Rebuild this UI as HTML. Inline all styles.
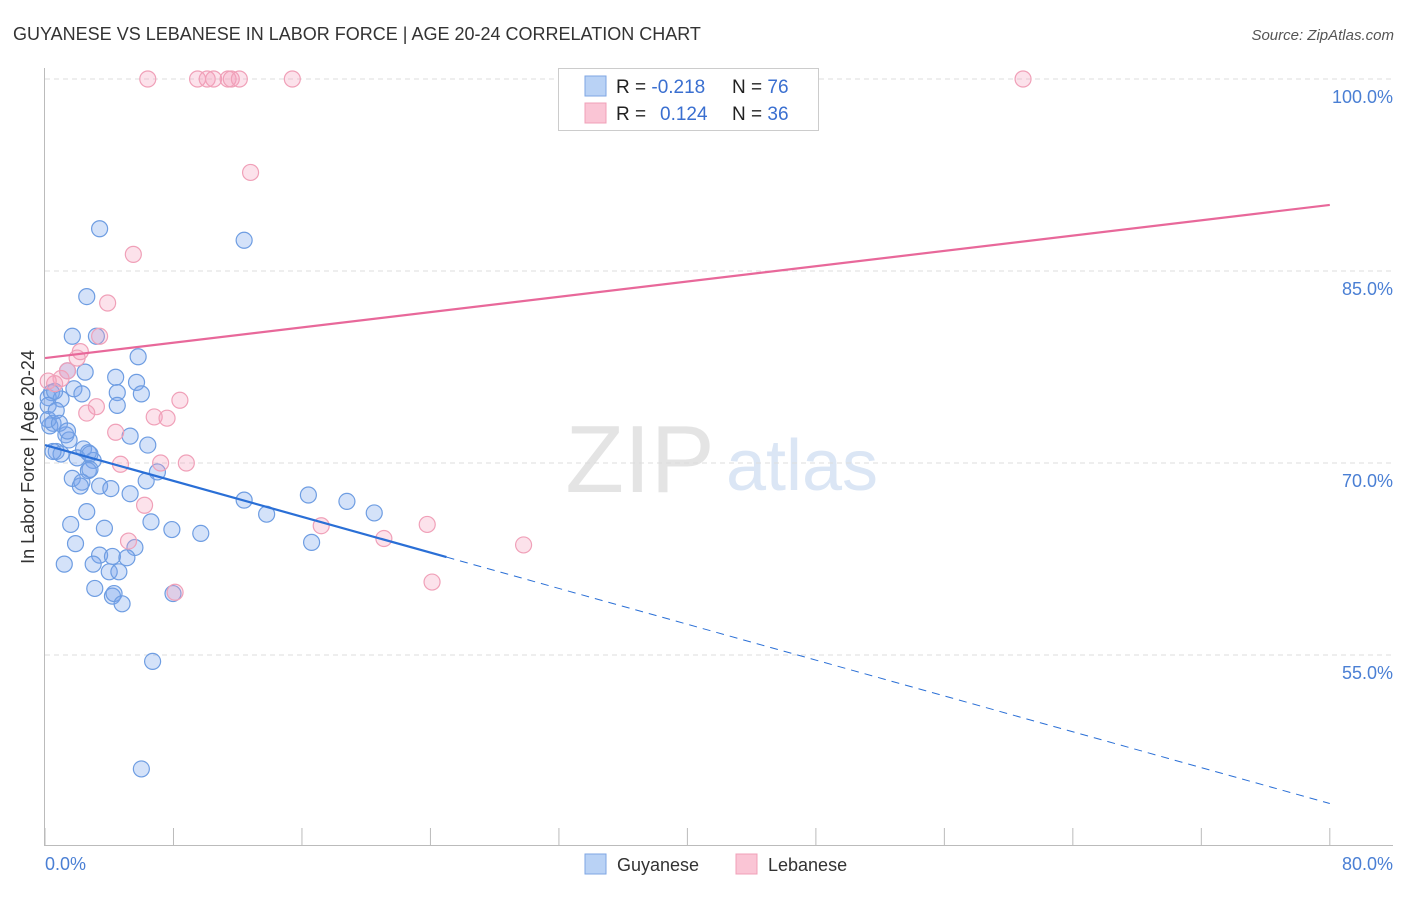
<!DOCTYPE html>
<html><head><meta charset="utf-8"><style>
body{margin:0;background:#fff;font-family:"Liberation Sans",sans-serif}
svg text{font-family:"Liberation Sans",sans-serif}
</style></head><body>
<svg id="c" width="1406" height="892" xmlns="http://www.w3.org/2000/svg">
<text x="13" y="40" font-size="18" fill="#333">GUYANESE VS LEBANESE IN LABOR FORCE | AGE 20-24 CORRELATION CHART</text>
<text x="1394" y="40" font-size="15" fill="#555" font-style="italic" text-anchor="end">Source: ZipAtlas.com</text>
<text x="640" y="492" font-size="96" fill="#e4e4e4" font-family="Liberation Serif" text-anchor="middle">ZIP</text>
<text x="802" y="490" font-size="72" fill="#dbe6f5" text-anchor="middle">atlas</text>
<g id="grid"></g><g id="axes"></g><g id="pts"></g><g id="lines"></g>
<text transform="translate(34,457) rotate(-90)" font-size="18" fill="#333" text-anchor="middle">In Labor Force | Age 20-24</text>
<text x="45" y="870" font-size="18" fill="#4a7fd4">0.0%</text>
<text x="1393" y="870" font-size="18" fill="#4a7fd4" text-anchor="end">80.0%</text>
<g>
<rect x="558.5" y="68.5" width="260" height="62" fill="#fff" stroke="#ccc"/>
<rect x="585" y="76" width="21" height="20" fill="#b9d2f5" stroke="#7ea6e3"/>
<rect x="585" y="103" width="21" height="20" fill="#fac5d5" stroke="#f0a0b8"/>
<text x="616" y="93" font-size="19" fill="#222">R = <tspan fill="#3a6fd0">-0.218</tspan></text>
<text x="732" y="93" font-size="19" fill="#222">N = <tspan fill="#3a6fd0">76</tspan></text>
<text x="616" y="120" font-size="19" fill="#222">R = <tspan fill="#3a6fd0" x="660">0.124</tspan></text>
<text x="732" y="120" font-size="19" fill="#222">N = <tspan fill="#3a6fd0">36</tspan></text>
</g>
<g>
<rect x="585" y="854" width="21" height="20" fill="#b9d2f5" stroke="#7ea6e3"/>
<text x="617" y="871" font-size="18" fill="#333">Guyanese</text>
<rect x="736" y="854" width="21" height="20" fill="#fac5d5" stroke="#f0a0b8"/>
<text x="768" y="871" font-size="18" fill="#333">Lebanese</text>
</g>
</svg>
<script>
const yTicks=[100,85,70,55];
const xTicks=[0,8,16,24,32,40,48,56,64,72,80];
const blueX=[3.4,12.4,2.6,1.7,3.2,5.8,2.5,4.4,1.4,5.7,1.8,0.4,2.3,4.5,6.0,0.2,1.0,4.5,0.5,0.3,0.2,5.3,6.4,1.3,1.5,2.4,0.7,1.0,2.0,3.0,2.7,2.8,1.7,2.3,2.2,3.4,4.1,6.3,7.0,5.3,12.4,16.4,18.8,20.5,13.8,2.6,1.6,6.6,3.7,7.9,9.7,1.9,5.6,16.6,3.4,4.2,5.1,1.2,3.0,4.0,4.6,3.1,4.2,4.3,4.8,7.97,6.7,6.0,0.6,0.2,0.7,0.9,2.7,1.4,2.8,0.5];
const blueY=[88.3,87.4,83.0,79.9,79.9,78.3,77.1,76.7,77.2,76.3,75.8,75.5,75.4,75.5,75.4,75.1,75.0,74.5,73.1,72.9,73.4,72.1,71.4,72.2,71.8,71.1,70.9,70.7,70.4,70.2,69.4,69.5,68.8,68.5,68.2,68.2,68.0,68.6,69.3,67.6,67.1,67.5,67.0,66.1,66.0,66.2,65.2,65.4,64.9,64.8,64.5,63.7,63.4,63.8,62.8,62.7,62.6,62.1,62.1,61.5,61.5,60.2,59.6,59.8,59.0,59.8,54.5,46.1,75.6,74.5,74.1,73.1,70.8,72.5,70.7,70.9];
const pinkX=[6.4,9.5,10.1,10.5,11.4,11.6,12.1,15.4,60.9,12.8,5.5,3.9,3.4,2.2,2.0,1.4,1.0,0.6,0.2,8.4,3.2,2.6,6.8,7.6,4.4,7.2,8.8,4.7,6.2,17.2,23.8,21.1,5.2,29.8,8.1,24.1];
const pinkY=[100,100,100,100,100,100,100,100,100,92.7,86.3,82.5,79.9,78.7,78.2,77.2,76.6,76.2,76.4,74.9,74.4,73.9,73.6,73.5,72.4,70.0,70.0,69.9,66.7,65.1,65.2,64.1,63.9,63.6,59.9,60.7];
const blueTrend=[71.4,-0.35], pinkTrend=[78.2,0.1495];
const X=v=>45+v*16.06, Y=v=>79+(100-v)*12.8;
const NS='http://www.w3.org/2000/svg';
function mk(t,a,p){const e=document.createElementNS(NS,t);for(const k in a)e.setAttribute(k,a[k]);p.appendChild(e);return e;}
const grid=document.getElementById('grid'),axes=document.getElementById('axes'),pts=document.getElementById('pts'),lines=document.getElementById('lines');
yTicks.forEach(v=>{
 const l=mk('line',{x1:45,x2:1393,y1:Y(v),y2:Y(v),stroke:'#ddd','stroke-dasharray':'5,4'},grid);
 
 
 const t=mk('text',{x:1393,y:Y(v)+24,'font-size':18,fill:'#4a7fd4','text-anchor':'end'},grid);
 t.textContent=v.toFixed(1)+'%';
 
 
});
mk('line',{x1:44.5,x2:44.5,y1:68,y2:845,stroke:'#bbb'},axes);
mk('line',{x1:44,x2:1393,y1:845.5,y2:845.5,stroke:'#bbb'},axes);
xTicks.forEach(v=>{
 const l=mk('line',{x1:X(v),x2:X(v),y1:828,y2:845,stroke:'#bbb'},axes);
 
 
});
blueX.forEach((x,i)=>{
 const c=mk('circle',{cx:X(x),cy:Y(blueY[i]),r:8,fill:'rgba(120,165,235,0.32)',stroke:'#6e9de2','stroke-width':1.2},pts);
 
 
});
pinkX.forEach((x,i)=>{
 const c=mk('circle',{cx:X(x),cy:Y(pinkY[i]),r:8,fill:'rgba(245,160,190,0.3)',stroke:'#f0a0b8','stroke-width':1.2},pts);
 
 
});
const bt=x=>blueTrend[0]+blueTrend[1]*x, pt=x=>pinkTrend[0]+pinkTrend[1]*x;
let l=mk('line',{x1:X(0),y1:Y(pt(0)),x2:X(80),y2:Y(pt(80)),stroke:'#e8689a','stroke-width':2.2},lines);


l=mk('line',{x1:X(0),y1:Y(bt(0)),x2:X(25),y2:Y(bt(25)),stroke:'#2a6fd6','stroke-width':2.2},lines);


l=mk('line',{x1:X(25),y1:Y(bt(25)),x2:X(80),y2:Y(bt(80)),stroke:'#2a6fd6','stroke-width':1,'stroke-dasharray':'8,6'},lines);


</script>
</body></html>
